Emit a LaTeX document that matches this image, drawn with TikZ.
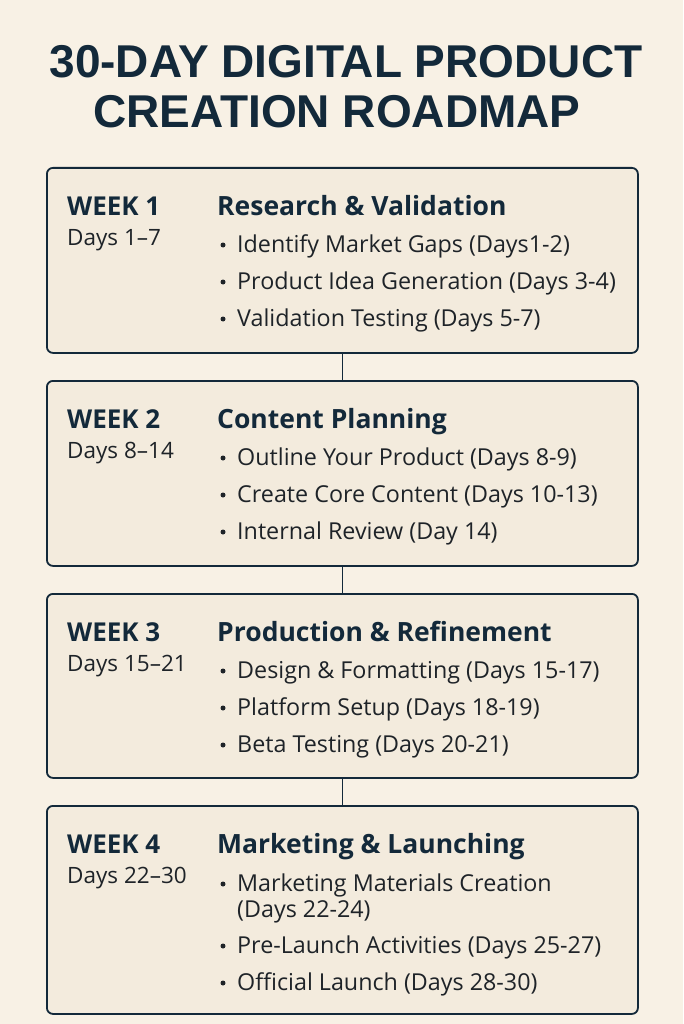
\documentclass[tikz,border=0pt]{standalone}
\usepackage{fontspec}
\setmainfont{Open Sans}
\newfontfamily\titlefont{Liberation Sans}
\definecolor{bg}{HTML}{F8F1E5}
\definecolor{boxfill}{HTML}{F3EBDD}
\definecolor{ink}{HTML}{13293A}
\definecolor{txt}{HTML}{1E2328}
\begin{document}
\begin{tikzpicture}[x=1pt,y=1pt,
  weekbox/.style={draw=ink, line width=1.8pt, fill=boxfill, rounded corners=6pt, minimum width=591pt, inner sep=0pt, anchor=north west},
  wk/.style={anchor=base west, inner sep=0pt, font=\fontsize{26}{28}\selectfont\bfseries, text=ink},
  days/.style={anchor=base west, inner sep=0pt, font=\fontsize{22.5}{26}\selectfont, text=txt},
  head/.style={anchor=base west, inner sep=0pt, font=\fontsize{26.5}{28}\selectfont\bfseries, text=ink},
  item/.style={anchor=base west, inner sep=0pt, font=\fontsize{23.3}{26}\selectfont, text=txt, align=left},
  dot/.style={circle, fill=txt, inner sep=0pt, minimum size=5pt},
  link/.style={draw=ink, line width=1.2pt}]
\useasboundingbox (0,0) rectangle (683,-1024);
\fill[bg] (0,0) rectangle (683,-1024);
% title
\node[anchor=base, inner sep=0pt, font=\titlefont\fontsize{46}{50}\selectfont\bfseries, text=ink] (t1) at (346,-78) {30-DAY DIGITAL PRODUCT};
\node[anchor=base, inner sep=0pt, font=\titlefont\fontsize{46}{50}\selectfont\bfseries, text=ink] (t2) at (337,-128) {CREATION ROADMAP};
% boxes
\node[weekbox, minimum height=185pt] (b1) at (46,-167) {};
\node[weekbox, minimum height=185pt] (b2) at (46,-380) {};
\node[weekbox, minimum height=184pt] (b3) at (46,-593) {};
\node[weekbox, minimum height=208pt] (b4) at (46,-805) {};
\draw[link] (b1.south) -- (b2.north);
\draw[link] (b2.south) -- (b3.north);
\draw[link] (b3.south) -- (b4.north);
% week 1
\node[wk] (w1) at (67,-215) {WEEK 1};
\node[days] (d1) at (67,-245) {Days 1–7};
\node[head] (h1) at (217,-215) {Research \& Validation};
\node[dot] (p11) at (223,-245) {}; \node[item] (i11) at (237,-252) {Identify Market Gaps (Days1-2)};
\node[dot] (p12) at (223,-282) {}; \node[item] (i12) at (237,-289) {Product Idea Generation (Days 3-4)};
\node[dot] (p13) at (223,-319) {}; \node[item] (i13) at (237,-326) {Validation Testing (Days 5-7)};
% week 2
\node[wk] (w2) at (67,-428) {WEEK 2};
\node[days] (d2) at (67,-458) {Days 8–14};
\node[head] (h2) at (217,-428) {Content Planning};
\node[dot] (p21) at (223,-458) {}; \node[item] (i21) at (237,-465) {Outline Your Product (Days 8-9)};
\node[dot] (p22) at (223,-495) {}; \node[item] (i22) at (237,-502) {Create Core Content (Days 10-13)};
\node[dot] (p23) at (223,-532) {}; \node[item] (i23) at (237,-539) {Internal Review (Day 14)};
% week 3
\node[wk] (w3) at (67,-641) {WEEK 3};
\node[days] (d3) at (67,-671) {Days 15–21};
\node[head] (h3) at (217,-641) {Production \& Refinement};
\node[dot] (p31) at (223,-671) {}; \node[item] (i31) at (237,-678) {Design \& Formatting (Days 15-17)};
\node[dot] (p32) at (223,-708) {}; \node[item] (i32) at (237,-715) {Platform Setup (Days 18-19)};
\node[dot] (p33) at (223,-745) {}; \node[item] (i33) at (237,-752) {Beta Testing (Days 20-21)};
% week 4
\node[wk] (w4) at (67,-853) {WEEK 4};
\node[days] (d4) at (67,-883) {Days 22–30};
\node[head] (h4) at (217,-853) {Marketing \& Launching};
\node[dot] (p41) at (223,-884) {}; \node[item] (i41) at (237,-891) {Marketing Materials Creation};
\node[item] (i41b) at (237,-917) {(Days 22-24)};
\node[dot] (p42) at (223,-946) {}; \node[item] (i42) at (237,-953) {Pre-Launch Activities (Days 25-27)};
\node[dot] (p43) at (223,-983) {}; \node[item] (i43) at (237,-990) {Official Launch (Days 28-30)};
\end{tikzpicture}
\end{document}
